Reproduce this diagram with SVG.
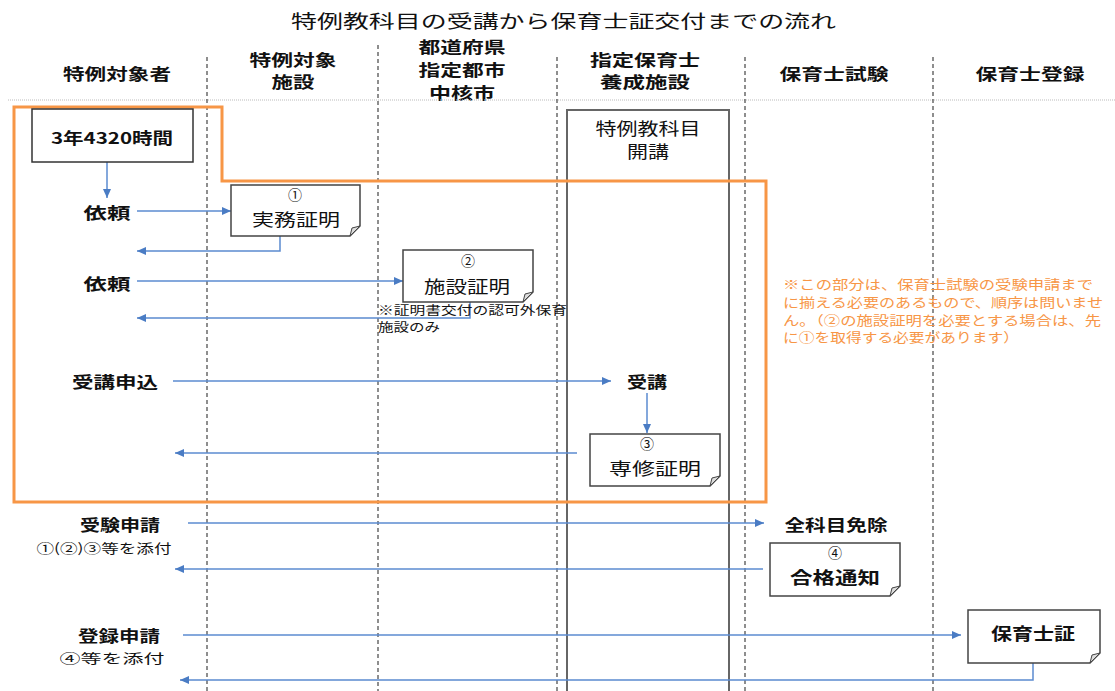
<svg xmlns="http://www.w3.org/2000/svg" width="1115" height="691" viewBox="0 0 1115 691">
<style>
text{font-family:"Noto Sans CJK JP","Noto Sans",sans-serif;fill:#111;dominant-baseline:central}
.t{font-size:18px}
.h{font-size:16px;font-weight:bold;text-anchor:middle}
.l{font-size:16px;font-weight:bold}
.s{font-size:13px}
.ss{font-size:12px}
.n{font-size:17px;text-anchor:middle}
.k{font-size:14px;text-anchor:middle}
.o{font-size:13px;fill:#F79646}
.lane{stroke:#444;stroke-width:1.2;stroke-dasharray:4,3;fill:none}
.note{fill:#fff;stroke:#444;stroke-width:1.5}
.fold{fill:#ddd;stroke:#444;stroke-width:1}
.c{stroke:#5B8BD0;stroke-width:1.5;fill:none;marker-end:url(#ah)}
</style>
<defs>
<marker id="ah" markerUnits="userSpaceOnUse" markerWidth="10" markerHeight="8" refX="9" refY="4" orient="auto">
<path d="M0,0 L9,4 L0,8 Z" fill="#4A7CC4"/>
</marker>
</defs>
<rect width="1115" height="691" fill="#fff"/>
<text class="t" x="291" y="20" textLength="545" lengthAdjust="spacingAndGlyphs">特例教科目の受講から保育士証交付までの流れ</text>
<g id="headers">
<text class="h" x="117" y="73" textLength="108" lengthAdjust="spacingAndGlyphs">特例対象者</text>
<text class="h" x="293" y="59" textLength="87" lengthAdjust="spacingAndGlyphs">特例対象</text>
<text class="h" x="293" y="81" textLength="43" lengthAdjust="spacingAndGlyphs">施設</text>
<text class="h" x="462" y="46" textLength="87" lengthAdjust="spacingAndGlyphs">都道府県</text>
<text class="h" x="462" y="69" textLength="87" lengthAdjust="spacingAndGlyphs">指定都市</text>
<text class="h" x="462" y="92" textLength="66" lengthAdjust="spacingAndGlyphs">中核市</text>
<text class="h" x="645" y="59" textLength="110" lengthAdjust="spacingAndGlyphs">指定保育士</text>
<text class="h" x="645" y="81" textLength="90" lengthAdjust="spacingAndGlyphs">養成施設</text>
<text class="h" x="834" y="73" textLength="109" lengthAdjust="spacingAndGlyphs">保育士試験</text>
<text class="h" x="1030" y="73" textLength="109" lengthAdjust="spacingAndGlyphs">保育士登録</text>
</g>
<g id="lanes">
<line x1="8" y1="100" x2="1115" y2="100" stroke="#bbb" stroke-width="1" stroke-dasharray="1,1"/>
<line class="lane" x1="207" y1="57" x2="207" y2="691"/>
<line class="lane" x1="378" y1="45" x2="378" y2="691"/>
<line class="lane" x1="557" y1="57" x2="557" y2="691"/>
<line class="lane" x1="745" y1="57" x2="745" y2="691"/>
<line class="lane" x1="933" y1="57" x2="933" y2="691"/>
</g>
<g id="column">
<rect x="567" y="110" width="162" height="600" fill="none" stroke="#666" stroke-width="2"/>
<text class="n" x="648" y="127" textLength="105" lengthAdjust="spacingAndGlyphs">特例教科目</text>
<text class="n" x="648" y="150" textLength="42" lengthAdjust="spacingAndGlyphs">開講</text>
</g>
<g id="scope">
<path d="M14,107 H222 V181 H766 V502 H14 Z" fill="none" stroke="#F79646" stroke-width="3"/>
<text class="o" x="783" y="283" textLength="310" lengthAdjust="spacingAndGlyphs">※この部分は、保育士試験の受験申請まで</text>
<text class="o" x="783" y="301" textLength="320" lengthAdjust="spacingAndGlyphs">に揃える必要のあるもので、順序は問いませ</text>
<text class="o" x="783" y="319" textLength="318" lengthAdjust="spacingAndGlyphs">ん。（②の施設証明を必要とする場合は、先</text>
<text class="o" x="783" y="336" textLength="236" lengthAdjust="spacingAndGlyphs">に①を取得する必要があります）</text>
</g>
<g id="connectors">
<path class="c" d="M107,162 V198"/>
<path class="c" d="M137,211 H231"/>
<path class="c" d="M280,236 V251 H137"/>
<path class="c" d="M137,281 H403"/>
<path class="c" d="M470,302 V318 H137"/>
<path class="c" d="M173,381 H611"/>
<path class="c" d="M647,393 V433"/>
<path class="c" d="M577,453 H175"/>
<path class="c" d="M188,523 H764"/>
<path class="c" d="M763,569 H175"/>
<path class="c" d="M183,635 H961"/>
<path class="c" d="M1033,663 V680 H180"/>
</g>
<g id="n-start">
<rect x="32" y="109" width="161" height="53" fill="#fff" stroke="#333" stroke-width="1.5"/>
<text class="l" x="112" y="137" text-anchor="middle" textLength="122" lengthAdjust="spacingAndGlyphs">3年4320時間</text>
</g>
<g id="n-irai1"><text class="l" x="107" y="212" text-anchor="middle" textLength="47" lengthAdjust="spacingAndGlyphs">依頼</text></g>
<g id="n-irai2"><text class="l" x="107" y="283" text-anchor="middle" textLength="47" lengthAdjust="spacingAndGlyphs">依頼</text></g>
<g id="n-jitsumu">
<path class="note" d="M231,185 H360 V226 L350,236 H231 Z"/>
<path class="fold" d="M350,236 L352,228 L360,226 Z"/>
<text class="k" x="295" y="194">①</text>
<text class="n" x="296" y="218" textLength="88" lengthAdjust="spacingAndGlyphs">実務証明</text>
</g>
<g id="n-shisetsu">
<path class="note" d="M403,250 H533 V292 L523,302 H403 Z"/>
<path class="fold" d="M523,302 L525,294 L533,292 Z"/>
<text class="k" x="468" y="260">②</text>
<text class="n" x="467" y="285" textLength="86" lengthAdjust="spacingAndGlyphs">施設証明</text>
<text class="ss" x="378" y="309" textLength="189" lengthAdjust="spacingAndGlyphs">※証明書交付の認可外保育</text>
<text class="ss" x="378" y="326" textLength="62" lengthAdjust="spacingAndGlyphs">施設のみ</text>
</g>
<g id="n-moushikomi"><text class="l" x="115" y="381" text-anchor="middle" textLength="86" lengthAdjust="spacingAndGlyphs">受講申込</text></g>
<g id="n-juko"><text class="l" x="647" y="381" text-anchor="middle" textLength="40" lengthAdjust="spacingAndGlyphs">受講</text></g>
<g id="n-senshu">
<path class="note" d="M590,434 H720 V476 L710,486 H590 Z"/>
<path class="fold" d="M710,486 L712,478 L720,476 Z"/>
<text class="k" x="647" y="443">③</text>
<text class="n" x="655" y="467" textLength="92" lengthAdjust="spacingAndGlyphs">専修証明</text>
</g>
<g id="n-juken">
<text class="l" x="120" y="524" text-anchor="middle" textLength="80" lengthAdjust="spacingAndGlyphs">受験申請</text>
<text class="s" x="104" y="547" text-anchor="middle" textLength="135" lengthAdjust="spacingAndGlyphs">①(②)③等を添付</text>
</g>
<g id="n-menjo"><text class="l" x="836" y="524" text-anchor="middle" textLength="103" lengthAdjust="spacingAndGlyphs">全科目免除</text></g>
<g id="n-goukaku">
<path class="note" d="M770,543 H900 V586 L890,596 H770 Z"/>
<path class="fold" d="M890,596 L892,588 L900,586 Z"/>
<text class="k" x="835" y="552">④</text>
<text class="n" x="835" y="576" font-weight="bold" textLength="90" lengthAdjust="spacingAndGlyphs">合格通知</text>
</g>
<g id="n-touroku">
<text class="l" x="119" y="635" text-anchor="middle" textLength="82" lengthAdjust="spacingAndGlyphs">登録申請</text>
<text class="s" x="112" y="657" text-anchor="middle" textLength="105" lengthAdjust="spacingAndGlyphs">④等を添付</text>
</g>
<g id="n-shoukei">
<path class="note" d="M968,610 H1100 V653 L1090,663 H968 Z"/>
<path class="fold" d="M1090,663 L1092,655 L1100,653 Z"/>
<text class="n" x="1033" y="632" font-weight="bold" textLength="84" lengthAdjust="spacingAndGlyphs">保育士証</text>
</g>
</svg>
